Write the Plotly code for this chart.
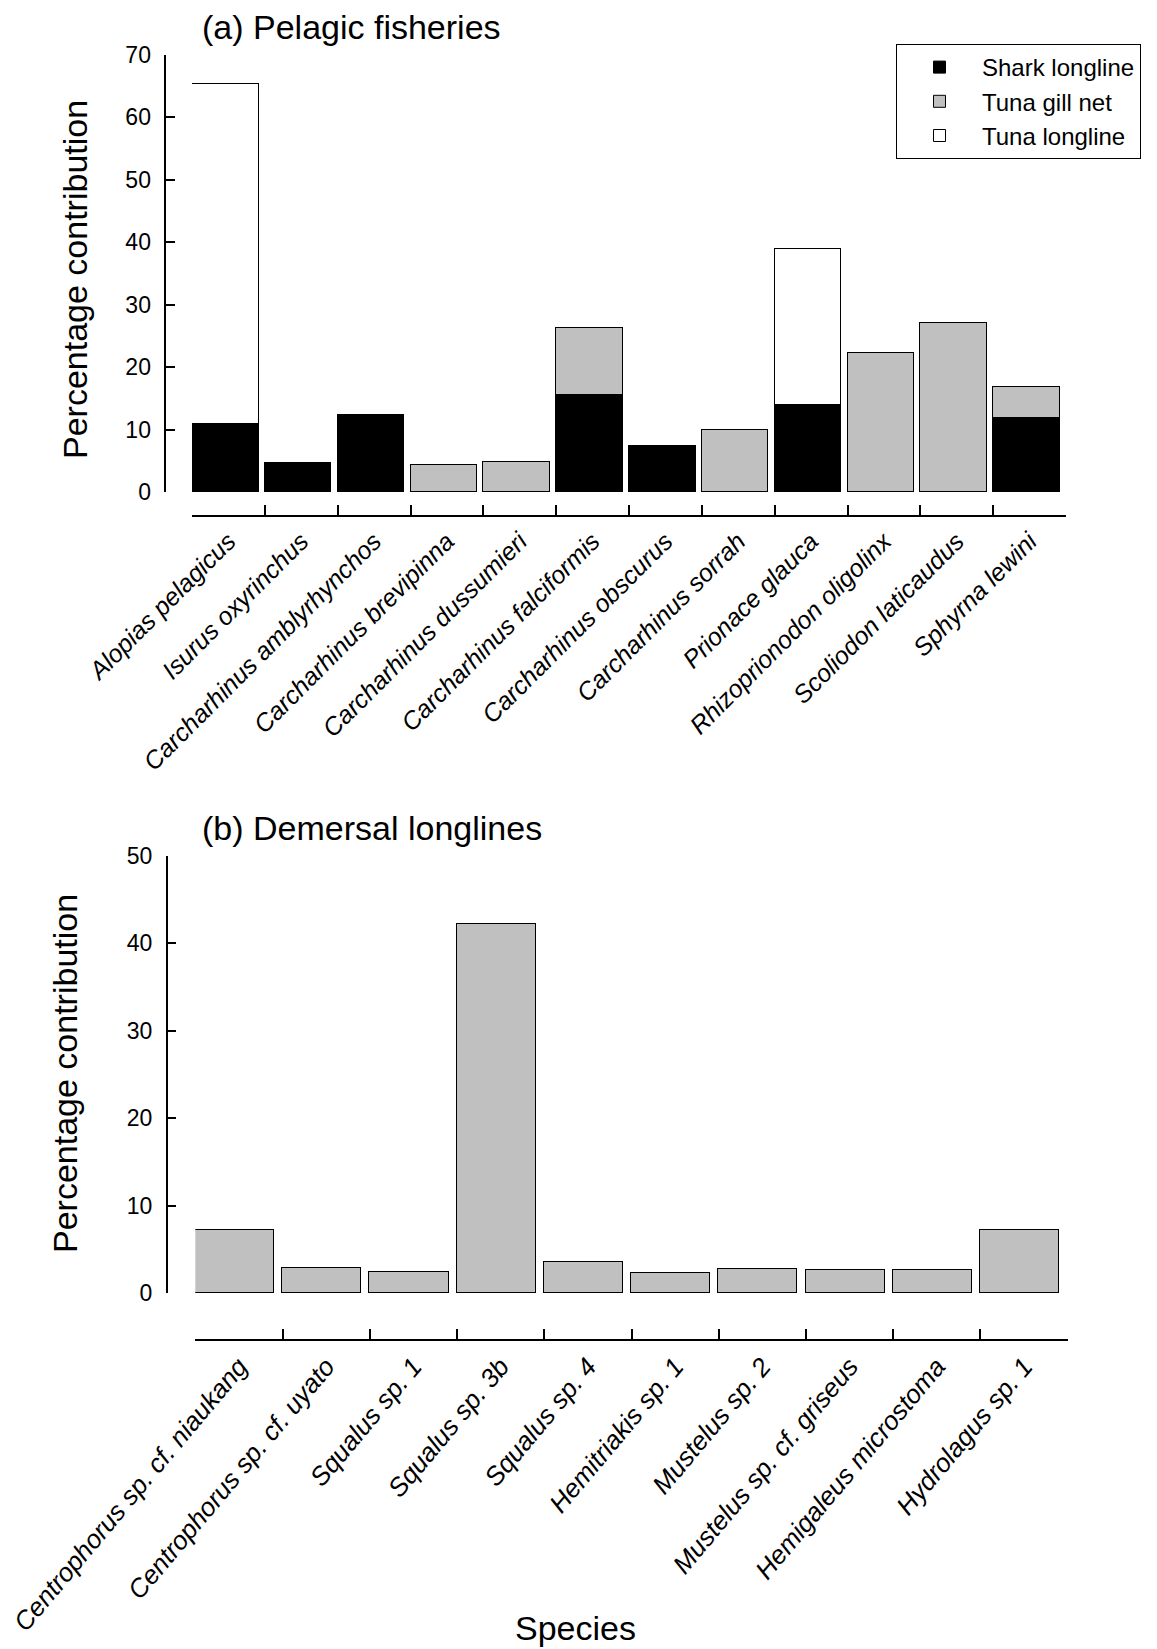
import plotly.graph_objects as go

# ---- data ----
pelagic_species = ["Alopias pelagicus", "Isurus oxyrinchus", "Carcharhinus amblyrhynchos",
                   "Carcharhinus brevipinna", "Carcharhinus dussumieri", "Carcharhinus falciformis",
                   "Carcharhinus obscurus", "Carcharhinus sorrah", "Prionace glauca",
                   "Rhizoprionodon oligolinx", "Scoliodon laticaudus", "Sphyrna lewini"]
shark_longline = [10.9, 4.6, 12.3, 0, 0, 15.6, 7.4, 0, 14.0, 0, 0, 11.9]
tuna_gillnet = [0, 0, 0, 4.4, 4.75, 10.6, 0, 10.0, 0, 22.25, 27.1, 5.0]
tuna_longline = [54.5, 0, 0, 0, 0, 0, 0, 0, 25.0, 0, 0, 0]

demersal_species = ["Centrophorus sp. cf. niaukang", "Centrophorus sp. cf. uyato", "Squalus sp. 1",
                    "Squalus sp. 3b", "Squalus sp. 4", "Hemitriakis sp. 1", "Mustelus sp. 2",
                    "Mustelus sp. cf. griseus", "Hemigaleus microstoma", "Hydrolagus sp. 1"]
demersal_values = [7.2, 2.9, 2.35, 42.2, 3.5, 2.25, 2.7, 2.6, 2.6, 7.2]

FONT = "Arial, Liberation Sans, sans-serif"
OFF = 8  # default page body margin
W, H = 1157 - OFF, 1649 - OFF


def px(x):
    return (x - OFF) / W


def py(y):
    return 1 - (y - OFF) / H


def it(names):
    return ["<i>%s</i>" % n for n in names]


fig = go.Figure()

series = [("Shark longline", shark_longline, "black"),
          ("Tuna gill net", tuna_gillnet, "#c0c0c0"),
          ("Tuna longline", tuna_longline, "white")]
for name, vals, col in series:
    fig.add_trace(go.Bar(x=it(pelagic_species), y=vals, name=name, marker_color=col,
                         marker_line=dict(color="black", width=1),
                         width=0.915, offset=-0.5, xaxis="x", yaxis="y"))

fig.add_trace(go.Bar(x=it(demersal_species), y=demersal_values, name="Demersal",
                     marker_color="#c0c0c0", marker_line=dict(color="black", width=1),
                     width=0.906, offset=-0.5, showlegend=False, xaxis="x2", yaxis="y2"))

axis_common = dict(showgrid=False, zeroline=False, showline=True, linecolor="black",
                   linewidth=1.5, ticks="inside", tickcolor="black", tickwidth=1.5,
                   automargin=False,
                   tickfont=dict(family=FONT, size=23, color="black"))

fig.update_layout(
    width=W, height=H, barmode="stack", bargap=0,
    plot_bgcolor="white", paper_bgcolor="white",
    margin=dict(l=0, r=0, t=0, b=0, autoexpand=False),
    font=dict(family=FONT, color="black"),
    xaxis=dict(axis_common, domain=[px(192), px(1066)], anchor="free", position=py(516),
               type="category", range=[-0.5, 11.5], tickson="boundaries", ticklen=10,
               tickangle=-45, tickfont=dict(family=FONT, size=25, color="black")),
    yaxis=dict(axis_common, domain=[py(492), py(55)], anchor="free", position=px(165.3),
               range=[0, 70], dtick=10, ticklen=9, ticklabelstandoff=9),
    xaxis2=dict(axis_common, domain=[px(195.3), px(1067.7)], anchor="free", position=py(1340),
                type="category", range=[-0.5, 9.5], tickson="boundaries", ticklen=10,
                tickangle=-50, tickfont=dict(family=FONT, size=26, color="black")),
    yaxis2=dict(axis_common, domain=[py(1293), py(856)], anchor="free", position=px(166.7),
                range=[0, 50], dtick=10, ticklen=9, ticklabelstandoff=9),
    legend=dict(x=px(896), y=py(44), xanchor="left", yanchor="top",
                bordercolor="black", borderwidth=1, bgcolor="white",
                font=dict(family=FONT, size=24, color="black"), traceorder="normal",
                tracegroupgap=0, itemwidth=75),
    showlegend=True,
)

ann = [
    dict(text="(a) Pelagic fisheries", x=px(200), y=py(27), xanchor="left", yanchor="middle"),
    dict(text="(b) Demersal longlines", x=px(200), y=py(828), xanchor="left", yanchor="middle"),
    dict(text="Percentage contribution", x=px(75), y=py(280), textangle=-90,
         xanchor="center", yanchor="middle"),
    dict(text="Percentage contribution", x=px(65), y=py(1074), textangle=-90,
         xanchor="center", yanchor="middle"),
    dict(text="Species", x=px(575), y=py(1628), xanchor="center", yanchor="middle"),
]
for a in ann:
    a.update(xref="paper", yref="paper", showarrow=False,
             font=dict(family=FONT, size=34, color="black"))
fig.update_layout(annotations=ann)

fig.write_html("out.html")
